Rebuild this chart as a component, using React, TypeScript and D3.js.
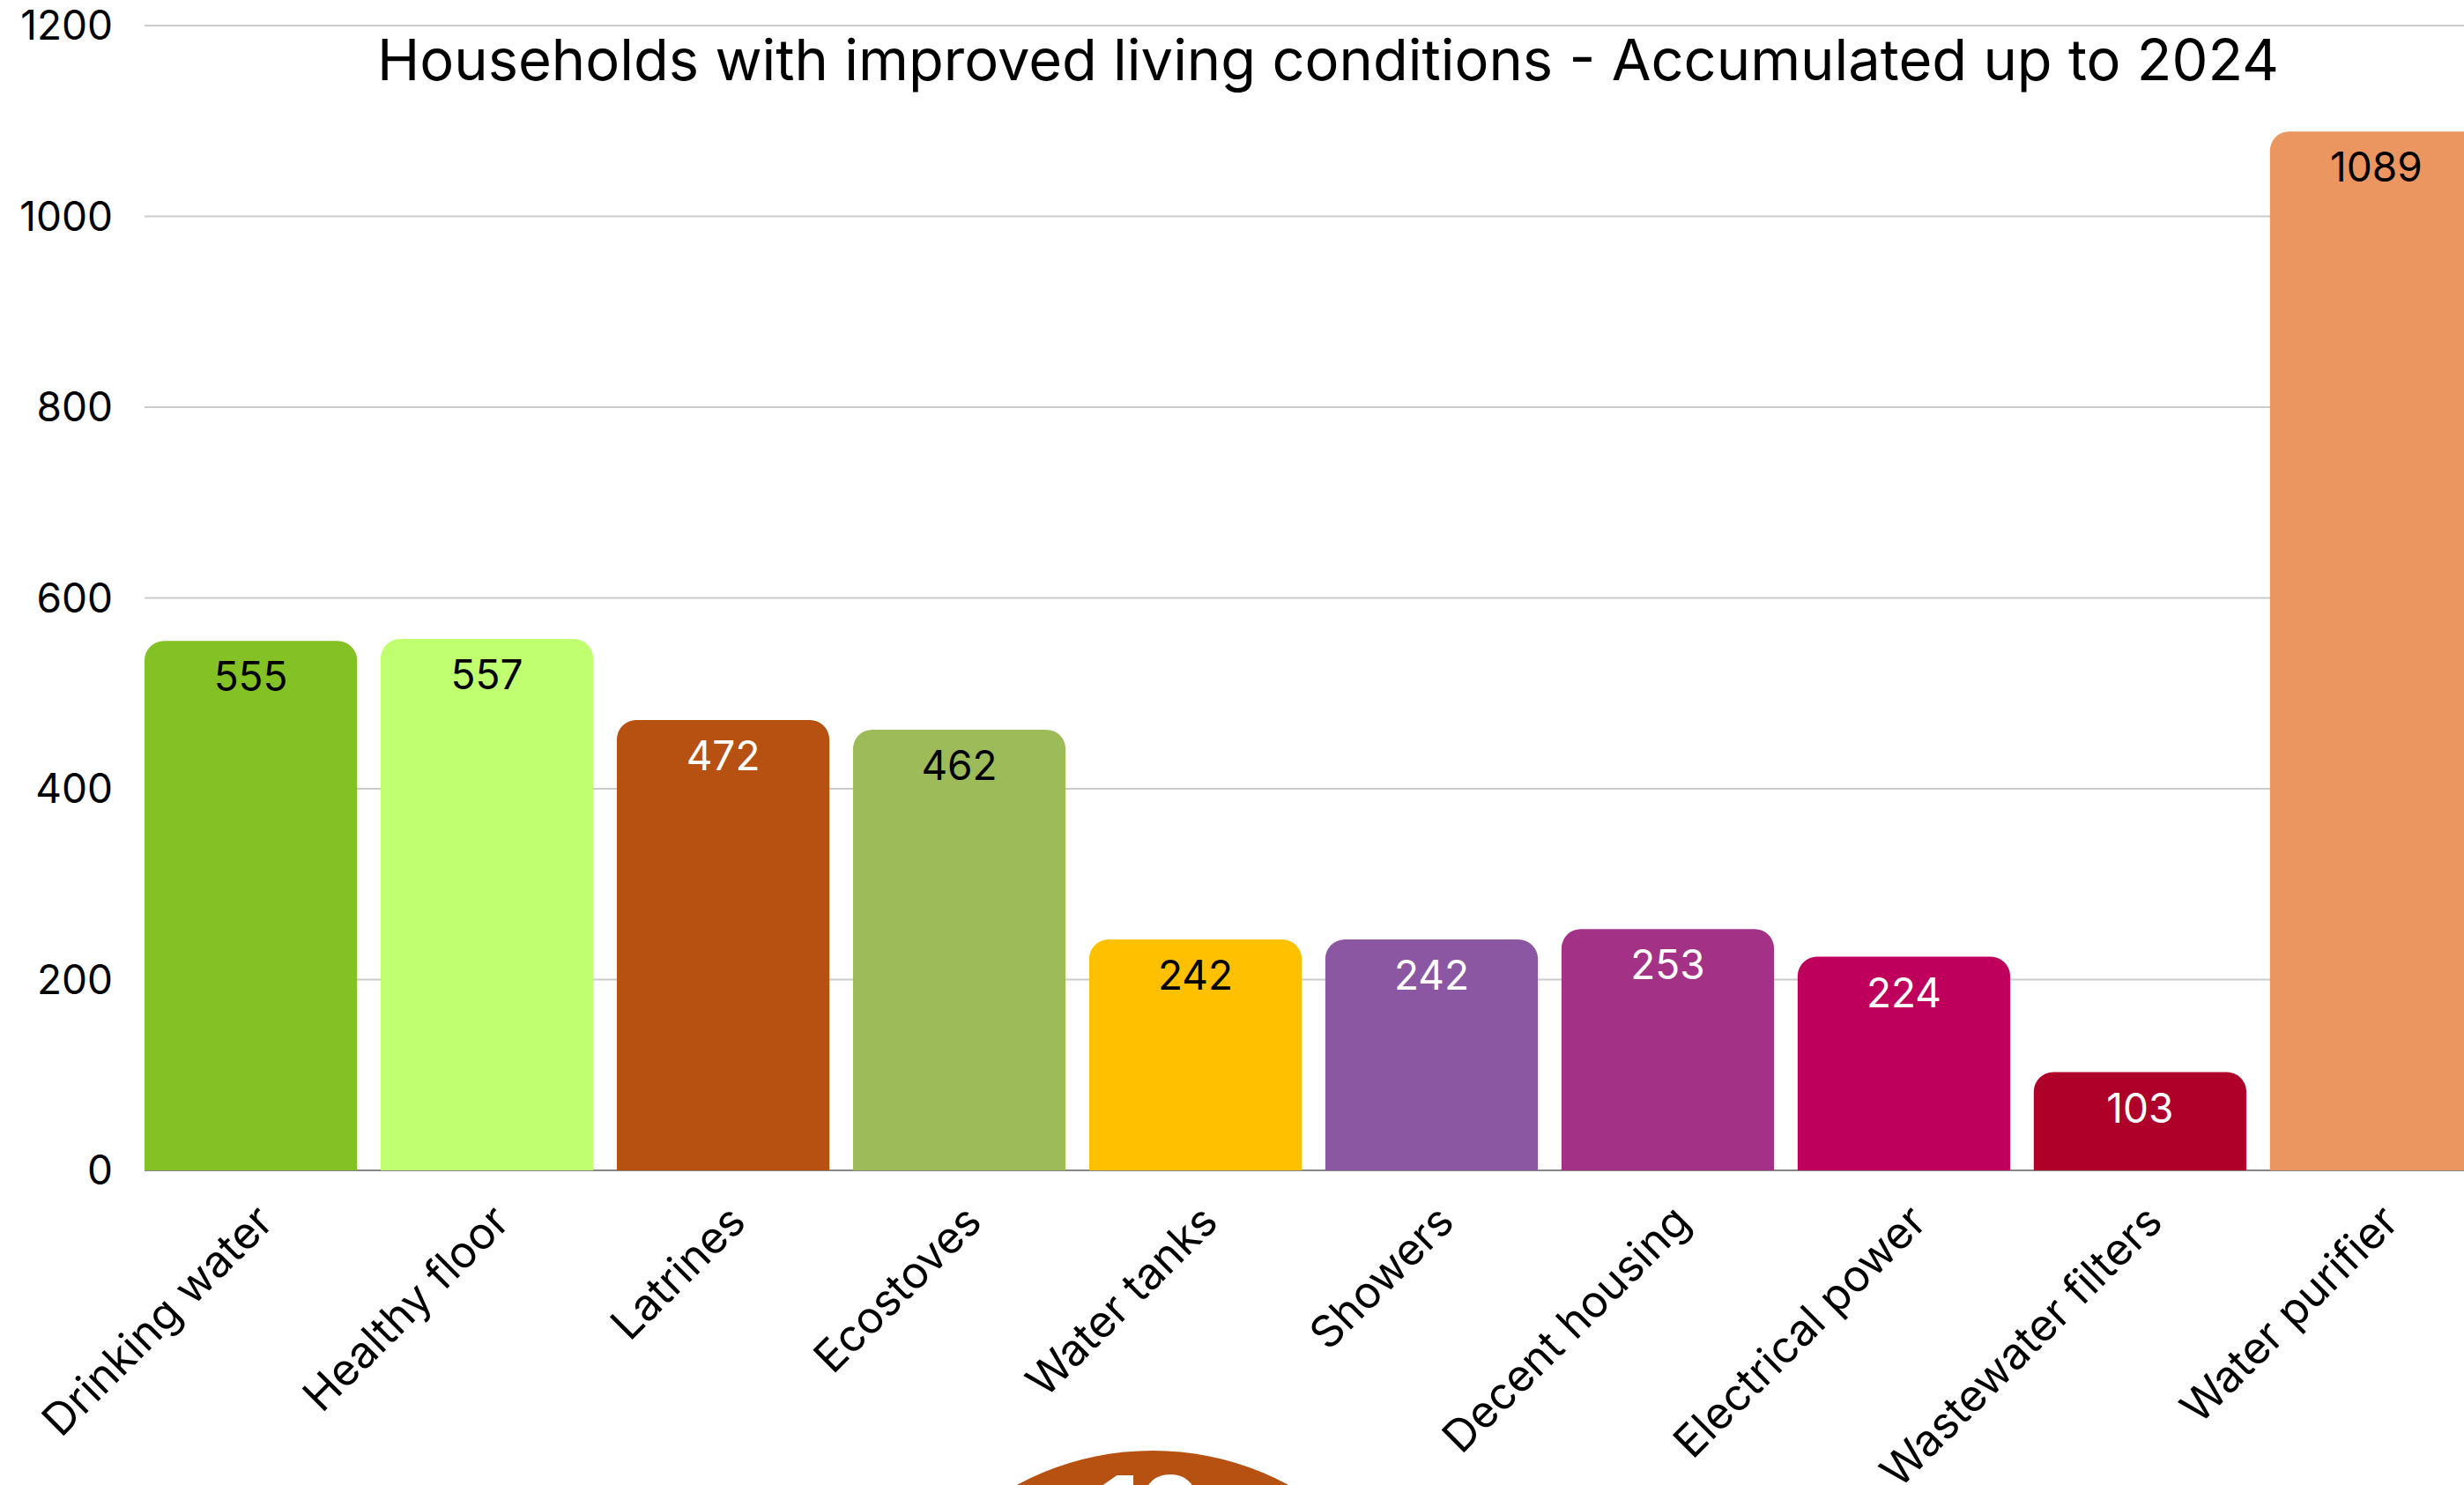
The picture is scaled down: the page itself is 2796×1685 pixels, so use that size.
import React from "react";
import * as d3 from "d3";

const categories = [
  "Drinking water",
  "Healthy floor",
  "Latrines",
  "Ecostoves",
  "Water tanks",
  "Showers",
  "Decent housing",
  "Electrical power",
  "Wastewater filters",
  "Water purifier",
];
const values = [555, 557, 472, 462, 242, 242, 253, 224, 103, 1089];
const barColors = [
  "#84C124",
  "#C0FF70",
  "#B65112",
  "#9DBB59",
  "#FFC000",
  "#8B56A2",
  "#A33287",
  "#BE005C",
  "#AF0029",
  "#EB9560",
];
const labelColors = [
  "#000", "#000", "#fff", "#000", "#000", "#fff", "#fff", "#fff", "#fff", "#000",
];
const yTicks = [0, 200, 400, 600, 800, 1000, 1200];
const title = "Households with improved living conditions - Accumulated up to 2024";

const W = 2796;
const H = 1685;
const left = 164;
const baseY = 1328;
const topY = 29;
const FONT = "Inter, 'Noto Sans', sans-serif";

function topRounded(x: number, y: number, w: number, h: number, r: number) {
  const p = d3.path();
  const rr = Math.min(r, h, w / 2);
  p.moveTo(x, y + h);
  p.lineTo(x, y + rr);
  p.arcTo(x, y, x + rr, y, rr);
  p.lineTo(x + w - rr, y);
  p.arcTo(x + w, y, x + w, y + rr, rr);
  p.lineTo(x + w, y + h);
  p.closePath();
  return p.toString();
}

export default function App() {
  const x = d3
    .scaleBand<string>()
    .domain(categories)
    .range([left, left + 268 * 10 - 27])
    .paddingInner(0.1)
    .paddingOuter(0);
  const y = d3.scaleLinear().domain([0, 1200]).range([baseY, topY]);
  const bw = x.bandwidth();

  return (
    <svg
      width={W}
      height={H}
      style={{ position: "absolute", left: 0, top: 0, background: "#fff" }}
      fontFamily={FONT}
    >
      <rect x={0} y={0} width={W} height={H} fill="#fff" />
      {yTicks.map((t) => (
        <g key={t}>
          {t > 0 && (
            <line x1={left} x2={W} y1={y(t)} y2={y(t)} stroke="#cccccc" strokeWidth={2} />
          )}
          <text
            x={128}
            y={y(t)}
            dy="0.35em"
            textAnchor="end"
            fontSize={46}
            fill="#000"
          >
            {t}
          </text>
        </g>
      ))}
      <line x1={left} x2={W} y1={baseY} y2={baseY} stroke="#888" strokeWidth={2} />
      <text x={1507} y={91} textAnchor="middle" fontSize={65} fill="#000">
        {title}
      </text>
      {categories.map((c, i) => {
        const bx = x(c)!;
        const by = y(values[i]);
        return (
          <g key={c}>
            <path d={topRounded(bx, by, bw, baseY - by, 22)} fill={barColors[i]} />
            <text
              x={bx + bw / 2}
              y={by + 57}
              textAnchor="middle"
              fontSize={46}
              fill={labelColors[i]}
            >
              {values[i]}
            </text>
            <text
              transform={`translate(${bx + bw / 2 + 28},${baseY + 61}) rotate(-45)`}
              textAnchor="end"
              fontSize={50}
              fill="#000"
            >
              {c}
            </text>
          </g>
        );
      })}
      <circle cx={1308} cy={1971} r={325} fill="#B65112" />
      <text x={1305} y={1750} textAnchor="middle" fontSize={104} fontWeight={800} fill="#fff">
        10
      </text>
    </svg>
  );
}
